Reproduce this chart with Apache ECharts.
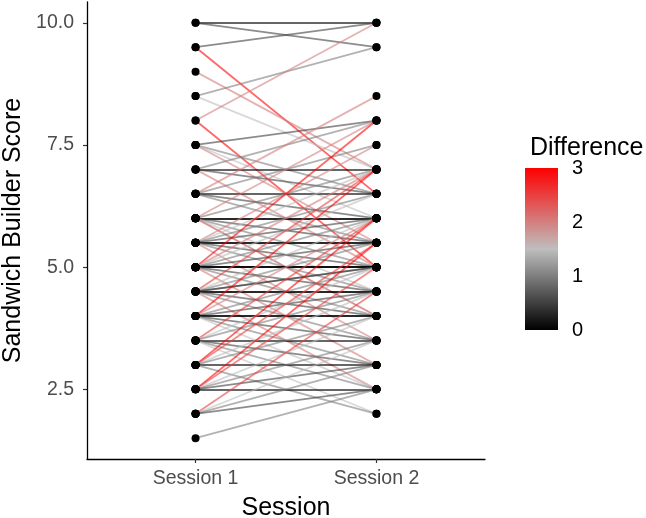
<!DOCTYPE html>
<html>
<head>
<meta charset="utf-8">
<script src="https://cdn.jsdelivr.net/npm/echarts@6/dist/echarts.min.js"></script>
<style>
  html, body { margin: 0; padding: 0; background: #fff; }
  #chart { width: 646px; height: 518px; }
</style>
</head>
<body>
<div id="chart"></div>
<script>
// one entry per participant, same order in both arrays
const session1 = [
  10, 10, 9.5, 9.5, 9, 8.5, 8.5, 8, 8,
  7.5, 7.5, 7.5, 7.5, 7, 7, 7, 7,
  6.5, 6.5, 6.5, 6.5, 6.5,
  6, 6, 6, 6, 6, 6, 6, 6, 6,
  5.5, 5.5, 5.5, 5.5, 5.5, 5.5, 5.5, 5.5, 5.5,
  5, 5, 5, 5, 5, 5, 5, 5, 5, 5, 5,
  4.5, 4.5, 4.5, 4.5, 4.5, 4.5, 4.5, 4.5, 4.5, 4.5,
  4, 4, 4, 4, 4, 4, 4, 4, 4,
  3.5, 3.5, 3.5, 3.5, 3.5, 3.5, 3.5,
  3, 3, 3, 3, 3, 3,
  2.5, 2.5, 2.5, 2.5, 2.5, 2.5,
  2, 2, 2, 2,
  1.5
];
const session2 = [
  10, 9.5, 10, 6.5, 7, 9.5, 7, 10, 5,
  8, 6.5, 6, 5.5, 8, 7, 6.5, 5,
  8.5, 7.5, 6.5, 6, 5.5,
  8, 7, 6, 6, 5.5, 5, 4.5, 4, 4,
  7.5, 7, 6.5, 6, 5.5, 5.5, 5, 4.5, 3.5,
  8, 7, 6.5, 6, 5.5, 5, 5, 5, 4.5, 4, 3,
  7, 6, 5.5, 5, 5, 4.5, 4.5, 4, 3.5, 2.5,
  7, 6, 5, 4.5, 4, 4, 3.5, 3, 2.5,
  6, 5, 4.5, 3.5, 3, 2.5, 2,
  6, 5.5, 4.5, 4, 3, 2,
  5.5, 5, 4, 3.5, 3, 2.5,
  4.5, 3.5, 3, 2.5,
  2.5
];
const sessionLabels = ['Session 1', 'Session 2'];
const yTicks = [2.5, 5, 7.5, 10];
const diffTicks = [0, 1, 2, 3];
const diffColors = ['#000000', '#BEBEBE', '#FF0000'];

const chart = echarts.init(document.getElementById('chart'));

function diffColor(d) {
  return echarts.color.lerp(Math.min(d, 3) / 3, diffColors);
}

const lineData = session1.map((s1, i) => {
  const d = Math.abs(session2[i] - s1);
  return {
    coords: [[1, s1], [2, session2[i]]],
    lineStyle: { color: diffColor(d) }
  };
});

const pointData = session1.map(v => [1, v]).concat(session2.map(v => [2, v]));

const option = {
  animation: false,
  title: {
    text: 'Difference',
    left: 525,
    top: 131,
    textStyle: { fontFamily: 'Liberation Sans', fontSize: 25, fontWeight: 'normal', color: '#000' }
  },
  grid: [
    { left: 87, right: 161, top: 2, bottom: 59, containLabel: false, outerBoundsMode: 'none' },
    { left: 525, width: 33, top: 168, height: 162, containLabel: false, outerBoundsMode: 'none' }
  ],
  xAxis: [
    {
      gridIndex: 0,
      type: 'value',
      min: 0.4,
      max: 2.6,
      name: 'Session',
      nameLocation: 'middle',
      nameGap: 37,
      nameTextStyle: { fontFamily: 'Liberation Sans', fontSize: 25, color: '#000' },
      axisLine: { show: true, lineStyle: { color: '#000', width: 1.3 } },
      axisTick: { show: true, length: 4, customValues: [1, 2], lineStyle: { color: '#333', width: 1.2 } },
      axisLabel: {
        customValues: [1, 2],
        formatter: v => sessionLabels[Math.round(v) - 1],
        fontFamily: 'Liberation Sans', fontSize: 19.5, color: '#4D4D4D', margin: 10
      },
      splitLine: { show: false }
    },
    {
      gridIndex: 1,
      type: 'category',
      data: [''],
      show: false
    }
  ],
  yAxis: [
    {
      gridIndex: 0,
      type: 'value',
      min: 1.075,
      max: 10.425,
      name: 'Sandwich Builder Score',
      nameLocation: 'middle',
      nameGap: 58,
      nameTextStyle: { fontFamily: 'Liberation Sans', fontSize: 25, color: '#000' },
      axisLine: { show: true, lineStyle: { color: '#000', width: 1.3 } },
      axisTick: { show: true, length: 4, customValues: yTicks, lineStyle: { color: '#333', width: 1.2 } },
      axisLabel: {
        customValues: yTicks,
        formatter: v => v.toFixed(1),
        fontFamily: 'Liberation Sans', fontSize: 19.5, color: '#4D4D4D', margin: 13
      },
      splitLine: { show: false }
    },
    {
      gridIndex: 1,
      type: 'value',
      min: 0,
      max: 3,
      position: 'right',
      axisLine: { show: false },
      axisTick: { show: false },
      axisLabel: {
        customValues: diffTicks,
        fontFamily: 'Liberation Sans', fontSize: 20, color: '#000', margin: 14
      },
      splitLine: { show: false }
    }
  ],
  series: [
    {
      type: 'lines',
      coordinateSystem: 'cartesian2d',
      xAxisIndex: 0,
      yAxisIndex: 0,
      silent: true,
      lineStyle: { width: 1.8, opacity: 0.6 },
      data: lineData,
      z: 2
    },
    {
      type: 'scatter',
      xAxisIndex: 0,
      yAxisIndex: 0,
      symbolSize: 8,
      itemStyle: { color: '#000', opacity: 1 },
      data: pointData,
      z: 3
    },
    {
      type: 'bar',
      xAxisIndex: 1,
      yAxisIndex: 1,
      barWidth: '100%',
      silent: true,
      data: [3],
      itemStyle: {
        color: new echarts.graphic.LinearGradient(0, 0, 0, 1, [
          { offset: 0, color: diffColors[2] },
          { offset: 0.5, color: diffColors[1] },
          { offset: 1, color: diffColors[0] }
        ])
      }
    }
  ]
};

chart.setOption(option);
</script>
</body>
</html>
